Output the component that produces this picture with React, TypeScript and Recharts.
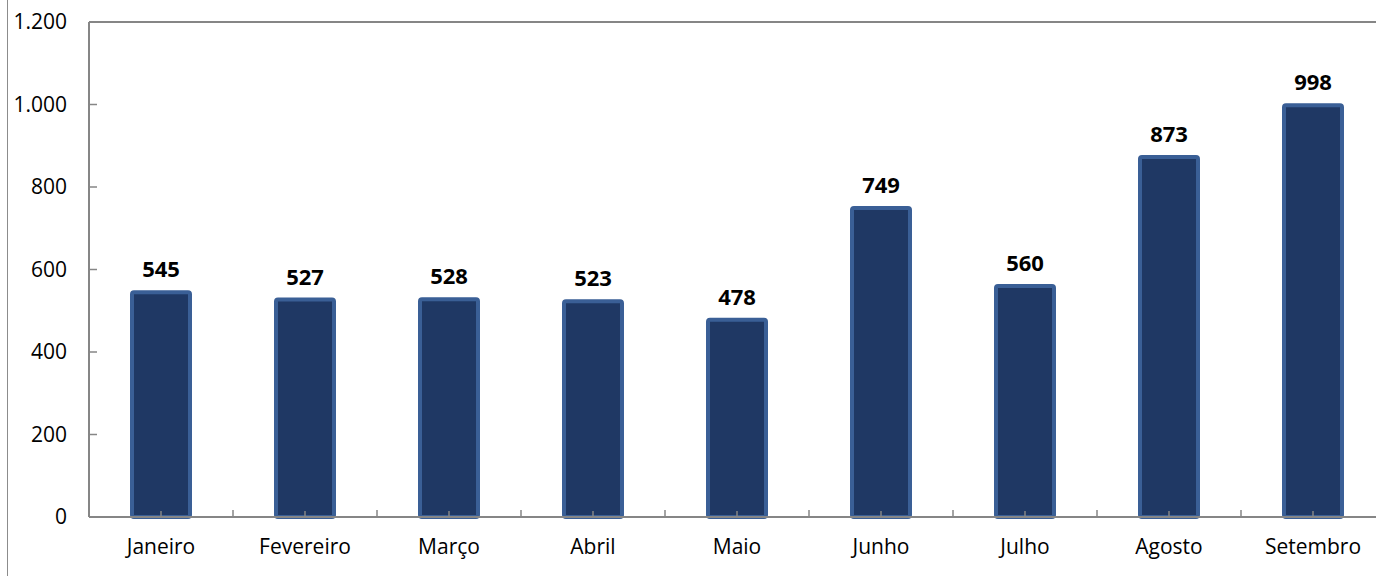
import { BarChart, Bar, XAxis, YAxis, LabelList, ReferenceLine } from 'recharts';

const months = ['Janeiro', 'Fevereiro', 'Março', 'Abril', 'Maio', 'Junho', 'Julho', 'Agosto', 'Setembro'];
const values = [545, 527, 528, 523, 478, 749, 560, 873, 998];
const yTicks = [0, 200, 400, 600, 800, 1000, 1200];

const data = months.map((month, i) => ({ month, value: values[i] }));

// plot area runs a bit past the right edge of the picture, like the original
const CHART_W = 1400;
const CHART_H = 576;
const PLOT_LEFT = 89;
const MARGIN = { top: 22, right: 15, bottom: 0, left: 0 };
const BAND = (CHART_W - MARGIN.right - PLOT_LEFT) / months.length;

const AXIS_COLOR = '#868686';
const FONT = '"Open Sans", sans-serif';

const fmt = (v: number) => String(v).replace(/\B(?=(\d{3})+(?!\d))/g, '.');

function YTick(props: any) {
  const { x, y, payload } = props;
  return (
    <g>
      <line x1={PLOT_LEFT} x2={PLOT_LEFT + 8} y1={y} y2={y} stroke={AXIS_COLOR} strokeWidth={1.5} />
      <text x={x} y={y} dy="0.355em" textAnchor="end" fontSize={21} fontFamily={FONT} fill="#000">
        {fmt(payload.value)}
      </text>
    </g>
  );
}

function XTick(props: any) {
  const { x, y, payload } = props;
  return (
    <g>
      <line x1={x - BAND / 2} x2={x - BAND / 2} y1={y - 7} y2={y} stroke={AXIS_COLOR} strokeWidth={1.5} />
      <line x1={x} x2={x} y1={y - 6} y2={y} stroke={AXIS_COLOR} strokeWidth={1.5} />
      <text x={x} y={y + 37} textAnchor="middle" fontSize={21} fontFamily={FONT} fill="#000">
        {payload.value}
      </text>
    </g>
  );
}

export default function App() {
  return (
    <div style={{ position: 'relative', width: 1376, height: 576, overflow: 'hidden', background: '#fff' }}>
      <style>{`body { margin: 0; }`}</style>
      <div style={{ position: 'absolute', left: 7, top: 0, width: 1, height: 576, background: '#8c8c8c' }} />
      <div style={{ position: 'absolute', left: 0, top: 0 }}>
        <BarChart width={CHART_W} height={CHART_H} data={data} margin={MARGIN} barCategoryGap={0}>
          <ReferenceLine y={1200} stroke={AXIS_COLOR} strokeWidth={2} />
          <XAxis
            dataKey="month"
            height={59}
            tickSize={0}
            tickMargin={0}
            tick={<XTick />}
            axisLine={{ stroke: AXIS_COLOR, strokeWidth: 2 }}
            interval={0}
          />
          <YAxis
            width={PLOT_LEFT}
            domain={[0, 1200]}
            ticks={yTicks}
            tickSize={0}
            tickMargin={22}
            tick={<YTick />}
            axisLine={{ stroke: AXIS_COLOR, strokeWidth: 2 }}
          />
          <Bar
            dataKey="value"
            barSize={58}
            fill="#1f3864"
            stroke="#3a5f96"
            strokeWidth={4}
            radius={2}
            isAnimationActive={false}
          >
            <LabelList
              dataKey="value"
              position="top"
              offset={15}
              fontSize={22}
              fontWeight="bold"
              fontFamily={FONT}
              fill="#000"
            />
          </Bar>
        </BarChart>
      </div>
    </div>
  );
}
